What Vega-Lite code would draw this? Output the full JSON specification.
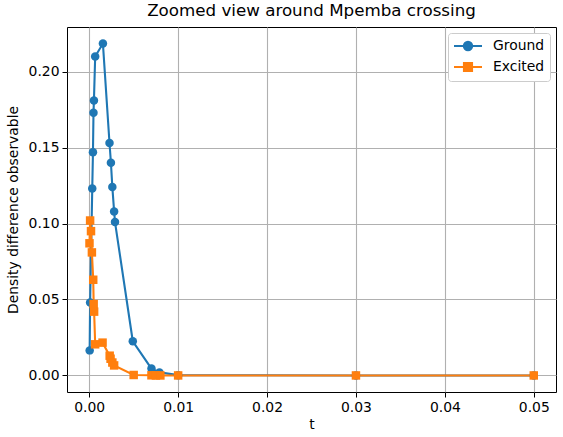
{
  "$schema": "https://vega.github.io/schema/vega-lite/v6.json",
  "width": 489,
  "height": 365,
  "autosize": {"type": "none"},
  "padding": {"left": 67, "top": 27, "right": 7, "bottom": 45},
  "background": "white",
  "title": {"text": "Zoomed view around Mpemba crossing", "fontSize": 16.7, "fontWeight": "normal", "font": "DejaVu Sans", "color": "black", "offset": 7, "anchor": "middle"},
  "data": {"values": [
    {"series": "Ground", "i": 0, "t": 0.00005, "v": 0.0165},
    {"series": "Ground", "i": 1, "t": 0.0001, "v": 0.048},
    {"series": "Ground", "i": 2, "t": 0.00034, "v": 0.123},
    {"series": "Ground", "i": 3, "t": 0.00042, "v": 0.147},
    {"series": "Ground", "i": 4, "t": 0.00048, "v": 0.173},
    {"series": "Ground", "i": 5, "t": 0.00053, "v": 0.181},
    {"series": "Ground", "i": 6, "t": 0.00067, "v": 0.210},
    {"series": "Ground", "i": 7, "t": 0.00154, "v": 0.2185},
    {"series": "Ground", "i": 8, "t": 0.00228, "v": 0.153},
    {"series": "Ground", "i": 9, "t": 0.00244, "v": 0.140},
    {"series": "Ground", "i": 10, "t": 0.0026, "v": 0.124},
    {"series": "Ground", "i": 11, "t": 0.0028, "v": 0.108},
    {"series": "Ground", "i": 12, "t": 0.0029, "v": 0.101},
    {"series": "Ground", "i": 13, "t": 0.0049, "v": 0.0225},
    {"series": "Ground", "i": 14, "t": 0.007, "v": 0.0045},
    {"series": "Ground", "i": 15, "t": 0.0079, "v": 0.002},
    {"series": "Ground", "i": 16, "t": 0.01, "v": 0.0002},
    {"series": "Ground", "i": 17, "t": 0.03, "v": 0.0},
    {"series": "Ground", "i": 18, "t": 0.05, "v": 0.0},
    {"series": "Excited", "i": 0, "t": 0.00003, "v": 0.087},
    {"series": "Excited", "i": 1, "t": 0.0001, "v": 0.102},
    {"series": "Excited", "i": 2, "t": 0.0002, "v": 0.095},
    {"series": "Excited", "i": 3, "t": 0.0003, "v": 0.081},
    {"series": "Excited", "i": 4, "t": 0.00045, "v": 0.063},
    {"series": "Excited", "i": 5, "t": 0.0005, "v": 0.047},
    {"series": "Excited", "i": 6, "t": 0.00055, "v": 0.042},
    {"series": "Excited", "i": 7, "t": 0.00067, "v": 0.0205},
    {"series": "Excited", "i": 8, "t": 0.0015, "v": 0.0216},
    {"series": "Excited", "i": 9, "t": 0.0023, "v": 0.013},
    {"series": "Excited", "i": 10, "t": 0.0024, "v": 0.011},
    {"series": "Excited", "i": 11, "t": 0.0026, "v": 0.0085},
    {"series": "Excited", "i": 12, "t": 0.0028, "v": 0.0066},
    {"series": "Excited", "i": 13, "t": 0.005, "v": 0.0003},
    {"series": "Excited", "i": 14, "t": 0.007, "v": 0.0001},
    {"series": "Excited", "i": 15, "t": 0.0075, "v": 0.0},
    {"series": "Excited", "i": 16, "t": 0.008, "v": 0.0},
    {"series": "Excited", "i": 17, "t": 0.01, "v": 0.0},
    {"series": "Excited", "i": 18, "t": 0.03, "v": 0.0},
    {"series": "Excited", "i": 19, "t": 0.05, "v": 0.0}
  ]},
  "encoding": {
    "x": {"field": "t", "type": "quantitative",
      "scale": {"domain": [-0.0025, 0.0525], "nice": false, "zero": false},
      "axis": {"title": "t", "values": [0, 0.01, 0.02, 0.03, 0.04, 0.05], "format": ".2f", "titlePadding": 4}},
    "y": {"field": "v", "type": "quantitative",
      "scale": {"domain": [-0.0109, 0.2294], "nice": false, "zero": false},
      "axis": {"title": "Density difference observable", "values": [0, 0.05, 0.1, 0.15, 0.2], "format": ".2f", "titlePadding": 8}},
    "color": {"field": "series", "type": "nominal",
      "scale": {"domain": ["Ground", "Excited"], "range": ["#1f77b4", "#ff7f0e"]},
      "legend": {
        "title": null,
        "orient": "top-right",
        "offset": 6,
        "padding": 5,
        "fillColor": "white",
        "strokeColor": "#cccccc",
        "cornerRadius": 3,
        "symbolSize": 196,
        "symbolStrokeWidth": 2,
        "labelFontSize": 13.9,
        "labelFont": "DejaVu Sans",
        "labelColor": "black",
        "labelOffset": 24,
        "rowPadding": 3,
        "encode": {
          "symbols": {"update": {
            "shape": {"signal": "datum.value === 'Ground' ? 'M-1,0H3M0.4,0A0.6,0.6 0 1,0 1.6,0A0.6,0.6 0 1,0 0.4,0Z' : 'M-1,0H3M0.42,-0.58H1.58V0.58H0.42Z'"},
            "fill": {"signal": "datum.value === 'Ground' ? '#1f77b4' : '#ff7f0e'"},
            "stroke": {"signal": "datum.value === 'Ground' ? '#1f77b4' : '#ff7f0e'"},
            "strokeWidth": {"value": 2},
            "opacity": {"value": 1},
            "fillOpacity": {"value": 1}
          }}
        }
      }}
  },
  "layer": [
    {
      "mark": {"type": "line", "strokeWidth": 2.1},
      "encoding": {
        "order": {"field": "i", "type": "quantitative"}
      }
    },
    {
      "transform": [{"filter": "datum.series === 'Ground'"}],
      "mark": {"type": "point", "shape": "circle", "filled": true, "opacity": 1, "size": 72}
    },
    {
      "transform": [{"filter": "datum.series === 'Excited'"}],
      "mark": {"type": "point", "shape": "square", "filled": true, "opacity": 1, "size": 72}
    }
  ],
  "config": {
    "font": "DejaVu Sans",
    "view": {"stroke": "black", "strokeWidth": 1},
    "axis": {
      "domain": false,
      "grid": true,
      "gridColor": "#b0b0b0",
      "gridWidth": 1.1,
      "gridOpacity": 1,
      "ticks": true,
      "tickColor": "black",
      "tickSize": 5,
      "tickWidth": 1,
      "labelFont": "DejaVu Sans",
      "labelFontSize": 13.9,
      "labelColor": "black",
      "labelPadding": 3,
      "titleFont": "DejaVu Sans",
      "titleFontSize": 13.9,
      "titleFontWeight": "normal",
      "titleColor": "black"
    }
  }
}
